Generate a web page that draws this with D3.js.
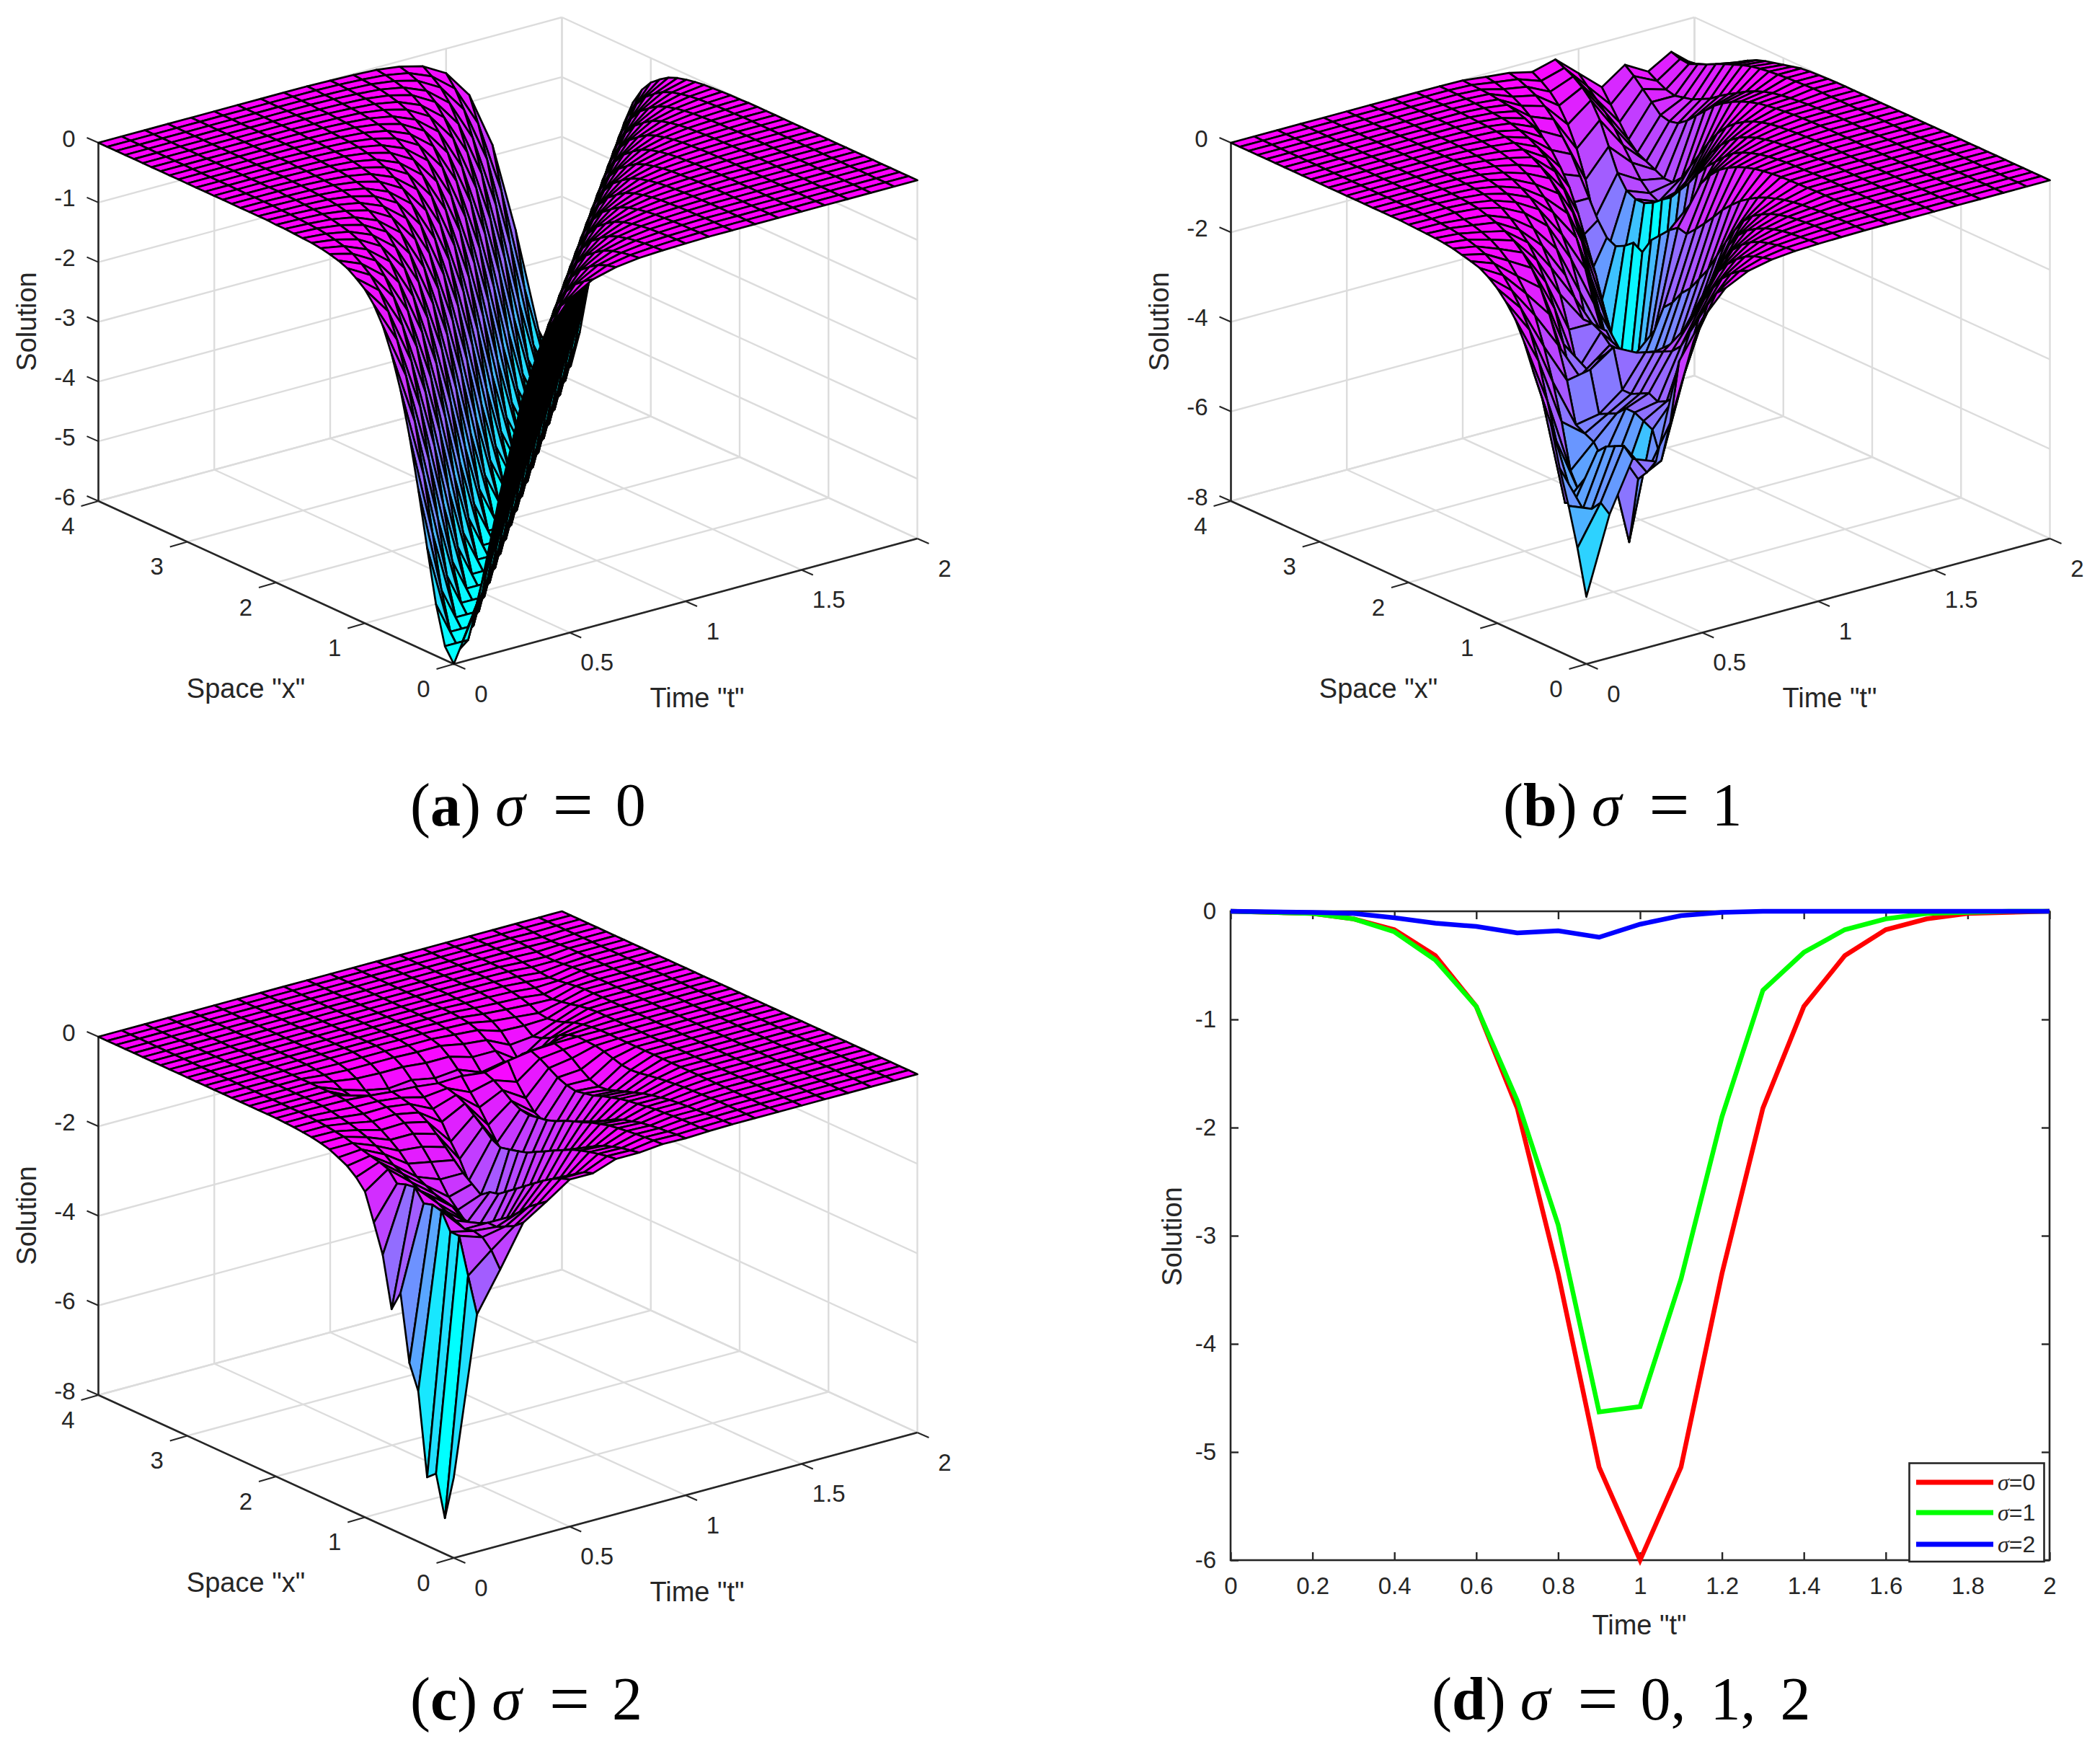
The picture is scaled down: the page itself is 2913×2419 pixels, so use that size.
<!DOCTYPE html>
<html>
<head>
<meta charset="utf-8">
<script src="https://cdnjs.cloudflare.com/ajax/libs/d3/7.8.5/d3.min.js"></script>
<style>
  html, body { margin: 0; background: #fff; }
  text { font-family: "Liberation Sans", Arial, sans-serif; fill: #262626; }
</style>
</head>
<body>
<div id="chart"></div>
<script>
// grid of the surfaces: rows are time, columns are space (trailing zeros of a row are left out)
const timeGrid = [0,.1,.2,.3,.4,.5,.6,.7,.8,.9,1,1.1,1.2,1.3,1.4,1.5,1.6,1.7,1.8,1.9,2];
const spaceGrid = [0,.1,.2,.3,.4,.5,.6,.7,.8,.9,1,1.1,1.2,1.3,1.4,1.5,1.6,1.7,1.8,1.9,2,2.1,2.2,2.3,2.4,2.5,2.6,2.7,2.8,2.9,3,3.1,3.2,3.3,3.4,3.5,3.6,3.7,3.8,3.9,4];

const timeTicks = [0,.5,1,1.5,2];
const spaceTicks = [0,1,2,3,4];
const zTicks1 = [0,-1,-2,-3,-4,-5,-6];
const zTicks2 = [0,-2,-4,-6,-8];

// sigma = 0
const surfaceA = [
[-6,-5.77,-5.14,-4.26,-3.35,-2.52,-1.82,-1.29,-.88,-.6,-.41,-.29,-.19,-.13,-.09,-.06,-.04,-.03,-.02,-.01,-.01],
[-5.14,-5.77,-6,-5.77,-5.14,-4.26,-3.35,-2.52,-1.82,-1.29,-.88,-.6,-.41,-.29,-.19,-.13,-.09,-.06,-.04,-.03,-.02,-.01,-.01],
[-3.35,-4.26,-5.14,-5.77,-6,-5.77,-5.14,-4.26,-3.35,-2.52,-1.82,-1.29,-.88,-.6,-.41,-.29,-.19,-.13,-.09,-.06,-.04,-.03,-.02,-.01,-.01],
[-1.82,-2.52,-3.35,-4.26,-5.14,-5.77,-6,-5.77,-5.14,-4.26,-3.35,-2.52,-1.82,-1.29,-.88,-.6,-.41,-.29,-.19,-.13,-.09,-.06,-.04,-.03,-.02,-.01,-.01],
[-.88,-1.29,-1.82,-2.52,-3.35,-4.26,-5.14,-5.77,-6,-5.77,-5.14,-4.26,-3.35,-2.52,-1.82,-1.29,-.88,-.6,-.41,-.29,-.19,-.13,-.09,-.06,-.04,-.03,-.02,-.01,-.01],
[-.41,-.6,-.88,-1.29,-1.82,-2.52,-3.35,-4.26,-5.14,-5.77,-6,-5.77,-5.14,-4.26,-3.35,-2.52,-1.82,-1.29,-.88,-.6,-.41,-.29,-.19,-.13,-.09,-.06,-.04,-.03,-.02,-.01,-.01],
[-.19,-.29,-.41,-.6,-.88,-1.29,-1.82,-2.52,-3.35,-4.26,-5.14,-5.77,-6,-5.77,-5.14,-4.26,-3.35,-2.52,-1.82,-1.29,-.88,-.6,-.41,-.29,-.19,-.13,-.09,-.06,-.04,-.03,-.02,-.01,-.01],
[-.09,-.13,-.19,-.29,-.41,-.6,-.88,-1.29,-1.82,-2.52,-3.35,-4.26,-5.14,-5.77,-6,-5.77,-5.14,-4.26,-3.35,-2.52,-1.82,-1.29,-.88,-.6,-.41,-.29,-.19,-.13,-.09,-.06,-.04,-.03,-.02,-.01,-.01],
[-.04,-.06,-.09,-.13,-.19,-.29,-.41,-.6,-.88,-1.29,-1.82,-2.52,-3.35,-4.26,-5.14,-5.77,-6,-5.77,-5.14,-4.26,-3.35,-2.52,-1.82,-1.29,-.88,-.6,-.41,-.29,-.19,-.13,-.09,-.06,-.04,-.03,-.02,-.01,-.01],
[-.02,-.03,-.04,-.06,-.09,-.13,-.19,-.29,-.41,-.6,-.88,-1.29,-1.82,-2.52,-3.35,-4.26,-5.14,-5.77,-6,-5.77,-5.14,-4.26,-3.35,-2.52,-1.82,-1.29,-.88,-.6,-.41,-.29,-.19,-.13,-.09,-.06,-.04,-.03,-.02,-.01,-.01],
[-.01,-.01,-.02,-.03,-.04,-.06,-.09,-.13,-.19,-.29,-.41,-.6,-.88,-1.29,-1.82,-2.52,-3.35,-4.26,-5.14,-5.77,-6,-5.77,-5.14,-4.26,-3.35,-2.52,-1.82,-1.29,-.88,-.6,-.41,-.29,-.19,-.13,-.09,-.06,-.04,-.03,-.02,-.01,-.01],
[0,0,-.01,-.01,-.02,-.03,-.04,-.06,-.09,-.13,-.19,-.29,-.41,-.6,-.88,-1.29,-1.82,-2.52,-3.35,-4.26,-5.14,-5.77,-6,-5.77,-5.14,-4.26,-3.35,-2.52,-1.82,-1.29,-.88,-.6,-.41,-.29,-.19,-.13,-.09,-.06,-.04,-.03,-.02],
[0,0,0,0,-.01,-.01,-.02,-.03,-.04,-.06,-.09,-.13,-.19,-.29,-.41,-.6,-.88,-1.29,-1.82,-2.52,-3.35,-4.26,-5.14,-5.77,-6,-5.77,-5.14,-4.26,-3.35,-2.52,-1.82,-1.29,-.88,-.6,-.41,-.29,-.19,-.13,-.09,-.06,-.04],
[0,0,0,0,0,0,-.01,-.01,-.02,-.03,-.04,-.06,-.09,-.13,-.19,-.29,-.41,-.6,-.88,-1.29,-1.82,-2.52,-3.35,-4.26,-5.14,-5.77,-6,-5.77,-5.14,-4.26,-3.35,-2.52,-1.82,-1.29,-.88,-.6,-.41,-.29,-.19,-.13,-.09],
[0,0,0,0,0,0,0,0,-.01,-.01,-.02,-.03,-.04,-.06,-.09,-.13,-.19,-.29,-.41,-.6,-.88,-1.29,-1.82,-2.52,-3.35,-4.26,-5.14,-5.77,-6,-5.77,-5.14,-4.26,-3.35,-2.52,-1.82,-1.29,-.88,-.6,-.41,-.29,-.19],
[0,0,0,0,0,0,0,0,0,0,-.01,-.01,-.02,-.03,-.04,-.06,-.09,-.13,-.19,-.29,-.41,-.6,-.88,-1.29,-1.82,-2.52,-3.35,-4.26,-5.14,-5.77,-6,-5.77,-5.14,-4.26,-3.35,-2.52,-1.82,-1.29,-.88,-.6,-.41],
[0,0,0,0,0,0,0,0,0,0,0,0,-.01,-.01,-.02,-.03,-.04,-.06,-.09,-.13,-.19,-.29,-.41,-.6,-.88,-1.29,-1.82,-2.52,-3.35,-4.26,-5.14,-5.77,-6,-5.77,-5.14,-4.26,-3.35,-2.52,-1.82,-1.29,-.88],
[0,0,0,0,0,0,0,0,0,0,0,0,0,0,-.01,-.01,-.02,-.03,-.04,-.06,-.09,-.13,-.19,-.29,-.41,-.6,-.88,-1.29,-1.82,-2.52,-3.35,-4.26,-5.14,-5.77,-6,-5.77,-5.14,-4.26,-3.35,-2.52,-1.82],
[0,0,0,0,0,0,0,0,0,0,0,0,0,0,0,0,-.01,-.01,-.02,-.03,-.04,-.06,-.09,-.13,-.19,-.29,-.41,-.6,-.88,-1.29,-1.82,-2.52,-3.35,-4.26,-5.14,-5.77,-6,-5.77,-5.14,-4.26,-3.35],
[0,0,0,0,0,0,0,0,0,0,0,0,0,0,0,0,0,0,-.01,-.01,-.02,-.03,-.04,-.06,-.09,-.13,-.19,-.29,-.41,-.6,-.88,-1.29,-1.82,-2.52,-3.35,-4.26,-5.14,-5.77,-6,-5.77,-5.14],
[0,0,0,0,0,0,0,0,0,0,0,0,0,0,0,0,0,0,0,0,-.01,-.01,-.02,-.03,-.04,-.06,-.09,-.13,-.19,-.29,-.41,-.6,-.88,-1.29,-1.82,-2.52,-3.35,-4.26,-5.14,-5.77,-6]
];

// sigma = 1
const surfaceB = [
[-6.5,-5.5,-4.65,-3.9,-3,-2.5,-2,-1.45,-1.03,-.75,-.53,-.37,-.25,-.19,-.14,-.09,-.06,-.04,-.03,-.02,-.01],
[-4.8,-4.63,-4.86,-4.95,-4.9,-5,-3.7,-2.9,-2.1,-1.5,-1.1,-.8,-.55,-.38,-.26,-.18,-.12,-.08,-.05,-.03,-.02,-.01],
[-3.7,-3.5,-3.6,-3.7,-3.9,-4.5,-5,-4.6,-3.6,-2.8,-2.1,-1.5,-1.1,-.8,-.55,-.38,-.26,-.18,-.12,-.08,-.02,-.01],
[-3.9,-4.23,-4.47,-5.97,-4.83,-4.6,-4.4,-4.1,-4,-3.9,-3,-2.3,-1.7,-1.2,-.85,-.6,-.42,-.3,-.2,-.13,-.07,-.04,-.02,-.01],
[-1.8,-3.27,-4.2,-3.6,-3.5,-3.4,-3.4,-3.6,-3.7,-3.8,-2.9,-3.2,-3.4,-2.6,-1.9,-1.4,-1,-.7,-.5,-.33,-.19,-.12,-.07,-.04,-.02,-.01],
[-1,-1.6,-2.4,-3,-3.2,-3.3,-3.2,-3.3,-3.4,-3.4,-2.54,-2.8,-3,-3.3,-3.4,-2.6,-1.9,-1.4,-1,-.7,-.45,-.3,-.2,-.13,-.08,-.05,-.03,-.01],
[-.45,-.65,-1,-1.4,-1.8,-2.2,-2.4,-2.5,-2.6,-2.7,-2.8,-2.9,-3,-2.9,-2.7,-2.6,-2.6,-2.2,-1.8,-1.3,-.88,-.6,-.42,-.3,-.2,-.14,-.09,-.06,-.04,-.02,-.01],
[-.2,-.3,-.45,-.65,-.95,-1.3,-1.7,-2.1,-2.5,-2.8,-3,-3.1,-3.2,-3.3,-3.3,-3.3,-3,-3.1,-3.2,-2.4,-1.75,-1.3,-.9,-.65,-.45,-.3,-.2,-.14,-.09,-.06,-.04,-.02,-.01],
[-.09,-.14,-.2,-.3,-.45,-.65,-.9,-1.3,-1.7,-2.3,-3,-3.6,-4,-4.2,-4.3,-4.4,-4.4,-4.3,-4,-3.5,-2.9,-2.2,-1.6,-1.15,-.8,-.55,-.38,-.26,-.18,-.12,-.08,-.05,-.03,-.02,-.01],
[-.04,-.06,-.09,-.14,-.2,-.3,-.45,-.65,-.95,-1.4,-1.9,-2.5,-3.1,-3.7,-4.2,-4.5,-4.6,-4.6,-4.6,-4.1,-4.63,-4.1,-3.4,-2.7,-2,-1.45,-1.03,-.72,-.5,-.35,-.24,-.16,-.1,-.07,-.05,-.03,-.02,-.01],
[-.02,-.03,-.05,-.07,-.1,-.15,-.22,-.32,-.45,-.65,-.95,-1.4,-1.9,-2.5,-3,-3.4,-3.8,-4.1,-4.3,-4.5,-4.58,-4.5,-4.5,-4.3,-3.7,-3,-2.4,-1.8,-1.3,-.95,-.66,-.46,-.32,-.22,-.15,-.1,-.07,-.04,-.03,-.02,-.01],
[-.01,-.01,-.02,-.03,-.05,-.07,-.1,-.15,-.22,-.32,-.45,-.65,-.95,-1.3,-1.7,-2.1,-2.4,-2.7,-2.9,-3.2,-3.4,-4,-4.8,-5.8,-6.8,-7.6,-7.2,-6,-4.8,-3.8,-2.9,-2.1,-1.5,-1.05,-.72,-.5,-.35,-.24,-.16,-.1,-.07],
[0,0,0,-.01,-.02,-.03,-.05,-.07,-.1,-.14,-.2,-.27,-.36,-.48,-.62,-.8,-1,-1.25,-1.48,-1.7,-1.9,-1.85,-2,-2.2,-2.4,-2.76,-2.64,-2.8,-2.9,-2.8,-2.5,-2.1,-1.7,-1.3,-1,-.7,-.5,-.35,-.25,-.17,-.12],
[0,0,0,0,0,0,0,0,0,-.01,-.02,-.03,-.04,-.06,-.09,-.13,-.19,-.27,-.38,-.52,-.73,-1,-1.5,-2.2,-3.2,-4.4,-5.8,-7,-7.8,-7.4,-6,-4.8,-3.8,-2.9,-2.1,-1.5,-1.05,-.72,-.5,-.35,-.24],
[0,0,0,0,0,0,0,0,0,0,0,-.01,-.02,-.03,-.04,-.06,-.09,-.13,-.19,-.27,-.38,-.55,-.75,-.95,-1.2,-1.5,-1.75,-2,-2.14,-2.3,-2.4,-2.4,-2.3,-2,-1.5,-1,-.65,-.45,-.3,-.2,-.1],
[0,0,0,0,0,0,0,0,0,0,0,0,0,-.01,-.02,-.03,-.04,-.06,-.08,-.12,-.17,-.25,-.35,-.5,-.7,-.95,-1.25,-1.6,-2,-2.4,-2.6,-2.6,-2.5,-2.3,-2,-1.7,-1.4,-1.15,-.95,-.75,-.55],
[0,0,0,0,0,0,0,0,0,0,0,0,0,0,0,0,-.01,-.02,-.03,-.05,-.07,-.1,-.15,-.22,-.32,-.45,-.62,-.85,-1.15,-1.5,-1.85,-2.2,-2.4,-2.4,-2.3,-2.2,-2.1,-1.9,-1.6,-1.3,-1],
[0,0,0,0,0,0,0,0,0,0,0,0,0,0,0,0,0,0,0,-.01,-.02,-.03,-.05,-.07,-.1,-.14,-.2,-.28,-.38,-.5,-.65,-.85,-1.05,-1.25,-1.4,-1.45,-1.4,-1.2,-1,-.8,-.64],
[0,0,0,0,0,0,0,0,0,0,0,0,0,0,0,0,0,0,0,0,-.01,-.02,-.03,-.05,-.07,-.1,-.14,-.2,-.28,-.38,-.5,-.62,-.75,-.9,-1,-1.1,-1.15,-1.2,-1.15,-1.05,-.93],
[0,0,0,0,0,0,0,0,0,0,0,0,0,0,0,0,0,0,0,0,0,0,0,0,0,-.01,-.02,-.03,-.05,-.07,-.1,-.14,-.2,-.28,-.36,-.45,-.55,-.63,-.72,-.7,-.63],
[0,0,0,0,0,0,0,0,0,0,0,0,0,0,0,0,0,0,0,0,0,0,0,0,0,-.01,-.02,-.03,-.05,-.1,-.15,-.2,-.25,-.32,-.42,-.55,-.7,-.8,-.9,-1,-1.06]
];

// sigma = 2
const surfaceC = [
[-6.2,-7.2,-6.3,-6.47,-4.64,-4.1,-2.63,-3.08,-1.96,-1.33,-.73,-.5,-.34,-.24,-.15,-.1,-.06,-.04,-.02,-.01],
[-2.7,-1.93,-1.13,-1.13,-.76,-.71,-.77,-.5,-.53,-.6,-.37,-.3,-.25,-.2,-.15,-.1,-.07,-.04,-.02,-.01],
[-1.84,-1.5,-1.3,-1.25,-1.3,-1.2,-1.1,-1,-.9,-.9,-.8,-.7,-.6,-.45,-.35,-.25,-.18,-.12,-.08,-.04,-.01],
[-.93,-1.1,-1.2,-1.3,-1.3,-1.4,-1.5,-1.45,-1.3,-1.3,-1.2,-1.1,-1,-.8,-.6,-.45,-.32,-.22,-.14,-.08,-.02],
[-.6,-.75,-.9,-1.1,-1.3,-1.6,-1.9,-2.1,-2,-1.9,-1.7,-1.5,-1.2,-.9,-.65,-.45,-.3,-.2,-.13,-.09,-.06,-.15,-.25,-.2,-.1,-.05,-.02],
[-.25,-.32,-.42,-.55,-.7,-.85,-1,-1.15,-1.3,-1.35,-1.5,-1.35,-1.2,-1,-.8,-.6,-.42,-.3,-.2,-.15,-.11,-.3,-.45,-.35,-.18,-.08,-.03],
[-.25,-.32,-.45,-.6,-.8,-1,-1.2,-1.4,-1.65,-1.9,-2.1,-2.3,-2.5,-2.1,-1.7,-1.3,-1,-.65,-.45,-.28,-.14,-.5,-.7,-.45,-.2,-.08,-.03],
[-.07,-.1,-.14,-.19,-.25,-.32,-.42,-.52,-.63,-.73,-.84,-.9,-.95,-1,-.9,-.72,-.55,-.38,-.28,-.22,-.2,-.4,-.55,-.4,-.2,-.08,-.03],
[-.07,-.11,-.15,-.21,-.28,-.38,-.5,-.63,-.8,-1,-1.2,-1.4,-1.55,-1.7,-1.75,-1.6,-1.3,-1,-.7,-.45,-.18,-.5,-.75,-.5,-.25,-.1,-.04,-.01],
[-.02,-.03,-.05,-.07,-.09,-.12,-.15,-.21,-.27,-.35,-.42,-.5,-.6,-.67,-.7,-.74,-.7,-.6,-.45,-.32,-.24,-.45,-.6,-.45,-.25,-.1,-.04,-.01],
[-.03,-.04,-.06,-.08,-.11,-.14,-.2,-.25,-.34,-.45,-.56,-.7,-.87,-1,-1.1,-1.2,-1.1,-1,-.77,-.5,-.12,-.45,-.75,-.65,-.4,-.2,-.08,-.03,-.01],
[-.01,-.02,-.02,-.03,-.04,-.06,-.07,-.1,-.13,-.16,-.2,-.26,-.32,-.4,-.44,-.48,-.44,-.36,-.24,-.12,-.04,-.2,-.45,-.55,-.4,-.25,-.12,-.05,-.02],
[0,-.01,-.01,-.03,-.04,-.05,-.07,-.09,-.13,-.17,-.22,-.29,-.36,-.43,-.5,-.52,-.45,-.32,-.16,-.06,-.01,-.15,-.45,-.7,-.75,-.5,-.28,-.15,-.08,-.04,-.02,-.01],
[0,0,0,0,0,-.01,-.02,-.03,-.04,-.06,-.08,-.11,-.14,-.18,-.2,-.18,-.12,-.06,-.02,-.01,0,-.05,-.15,-.3,-.4,-.45,-.3,-.2,-.12,-.07,-.03,-.01],
[0,0,0,0,0,0,0,0,0,0,0,0,0,0,0,0,0,0,0,0,0,-.02,-.05,-.1,-.18,-.25,-.28,-.25,-.15,-.09,-.05,-.02,-.01],
[0,0,0,0,0,0,0,0,0,0,0,0,0,0,0,0,0,0,0,0,0,0,0,0,-.02,-.05,-.1,-.14,-.17,-.15,-.1,-.06,-.03,-.01],
[0,0,0,0,0,0,0,0,0,0,0,0,0,0,0,0,0,0,0,0,0,0,0,0,0,0,0,0,-.02,-.05,-.08,-.1,-.08,-.05,-.03,-.01],
[0,0,0,0,0,0,0,0,0,0,0,0,0,0,0,0,0,0,0,0,0,0,0,0,0,0,0,0,0,0,0,-.01,-.03,-.05,-.05,-.03,-.01],
[0,0,0,0,0,0,0,0,0,0,0,0,0,0,0,0,0,0,0,0,0,0,0,0,0,0,0,0,0,0,0,0,0,0,0,-.01,-.02,-.02,-.01],
[],
[]
];

// panel (d), slice through x = 2
const lineSigma0 = [0,-.01,-.02,-.07,-.17,-.41,-.88,-1.82,-3.35,-5.14,-6,-5.14,-3.35,-1.82,-.88,-.41,-.17,-.07,-.02,-.01,0];
const lineSigma1 = [0,-.01,-.02,-.07,-.19,-.45,-.88,-1.75,-2.9,-4.63,-4.58,-3.4,-1.9,-.73,-.38,-.17,-.07,-.02,-.01,0,0];
const lineSigma2 = [0,-.005,-.01,-.02,-.06,-.11,-.14,-.2,-.18,-.24,-.12,-.04,-.01,0,0,0,0,0,0,0,0];
const lineTicksX = [0,.2,.4,.6,.8,1,1.2,1.4,1.6,1.8,2];
const lineTicksY = [0,-1,-2,-3,-4,-5,-6];
const legendLabels = ["=0","=1","=2"];
const lineColors = ["#ff0000","#00ff00","#0000ff"];

const width = 2913, height = 2419;

const svg = d3.select("#chart")
  .append("svg")
    .attr("width", width)
    .attr("height", height)
    .style("display", "block")
    .style("background", "#fff");

const gridGray = "#dcdcdc", axisDark = "#262626";

// matlab's "cool" map, 64 steps
function coolColor(z, zLow) {
  const level = d3.scaleQuantize().domain([zLow, 0]).range(d3.range(64));
  const r = level(z) / 63;
  return d3.rgb(255 * r, 255 * (1 - r), 255).formatHex();
}

function drawSurfacePanel(dx, dy, Z, zTicks, zLow, zAxisLow) {
  const g = svg.append("g").attr("transform", `translate(${dx},${dy})`);

  // the box is a plain orthographic projection: front corner, then one scale per axis
  const front = [629.5, 921];
  const tX = d3.scaleLinear().domain([0, 2]).range([0, 643]);
  const tY = d3.scaleLinear().domain([0, 2]).range([0, -174]);
  const xX = d3.scaleLinear().domain([0, 4]).range([0, -493]);
  const xY = d3.scaleLinear().domain([0, 4]).range([0, -226]);
  const zY = d3.scaleLinear().domain([zAxisLow, 0]).range([0, -497]);
  const project = (t, x, z) => [front[0] + tX(t) + xX(x), front[1] + tY(t) + xY(x) + zY(z)];

  const seg = (a, b, color, w) => g.append("line")
    .attr("x1", a[0]).attr("y1", a[1]).attr("x2", b[0]).attr("y2", b[1])
    .attr("stroke", color).attr("stroke-width", w);

  // walls and floor
  zTicks.forEach(z => {
    seg(project(0, 4, z), project(2, 4, z), gridGray, 2.4);
    seg(project(2, 4, z), project(2, 0, z), gridGray, 2.4);
  });
  timeTicks.forEach(t => {
    seg(project(t, 4, zAxisLow), project(t, 4, 0), gridGray, 2.4);
    seg(project(t, 0, zAxisLow), project(t, 4, zAxisLow), gridGray, 2.4);
  });
  spaceTicks.forEach(x => {
    seg(project(2, x, zAxisLow), project(2, x, 0), gridGray, 2.4);
    seg(project(0, x, zAxisLow), project(2, x, zAxisLow), gridGray, 2.4);
  });

  // axis lines and ticks
  seg(project(0, 4, zAxisLow), project(0, 4, 0), axisDark, 2.6);
  seg(project(0, 4, zAxisLow), project(0, 0, zAxisLow), axisDark, 2.6);
  seg(project(0, 0, zAxisLow), project(2, 0, zAxisLow), axisDark, 2.6);
  zTicks.forEach(z => {
    const p = project(0, 4, z);
    seg(p, [p[0] - 16, p[1] - 7], axisDark, 2);
    g.append("text").attr("x", p[0] - 32).attr("y", p[1] - 6)
      .attr("text-anchor", "end").attr("dominant-baseline", "central")
      .attr("font-size", 33).text(z);
  });
  spaceTicks.forEach(x => {
    const p = project(0, x, zAxisLow);
    seg(p, [p[0] - 24, p[1] + 7], axisDark, 2);
    g.append("text").attr("x", p[0] - 42).attr("y", p[1] + 34)
      .attr("text-anchor", "middle").attr("dominant-baseline", "central")
      .attr("font-size", 33).text(x);
  });
  timeTicks.forEach(t => {
    const p = project(t, 0, zAxisLow);
    seg(p, [p[0] + 16, p[1] + 7], axisDark, 2);
    g.append("text").attr("x", p[0] + 38).attr("y", p[1] + 41)
      .attr("text-anchor", "middle").attr("dominant-baseline", "central")
      .attr("font-size", 33).text(t);
  });

  // faces, back to front, coloured by their lowest-index corner
  const faces = [];
  for (let i = timeGrid.length - 2; i >= 0; i--) {
    for (let j = spaceGrid.length - 2; j >= 0; j--) {
      faces.push({i, j});
    }
  }
  const zAt = (i, j) => Z[i][j] || 0;
  const pt = (i, j) => project(timeGrid[i], spaceGrid[j], zAt(i, j));
  const line = d3.line();
  g.selectAll("path.face")
    .data(faces)
    .join("path")
      .attr("class", "face")
      .attr("d", d => line([pt(d.i, d.j), pt(d.i + 1, d.j), pt(d.i + 1, d.j + 1), pt(d.i, d.j + 1)]) + "Z")
      .attr("fill", d => coolColor(zAt(d.i, d.j), zLow))
      .attr("stroke", "#000")
      .attr("stroke-width", 2.7)
      .attr("stroke-linejoin", "round");

  g.append("text").attr("x", 341).attr("y", 955)
    .attr("text-anchor", "middle").attr("dominant-baseline", "central")
    .attr("font-size", 38).text('Space "x"');
  g.append("text").attr("x", 967).attr("y", 968)
    .attr("text-anchor", "middle").attr("dominant-baseline", "central")
    .attr("font-size", 38).text('Time "t"');
  g.append("text").attr("transform", "translate(37,446) rotate(-90)")
    .attr("text-anchor", "middle").attr("dominant-baseline", "central")
    .attr("font-size", 38).text("Solution");
}

drawSurfacePanel(0, 0, surfaceA, zTicks1, -6, -6);
drawSurfacePanel(1571, 0, surfaceB, zTicks2, -7.9, -8);
drawSurfacePanel(0, 1240, surfaceC, zTicks2, -7.2, -8);

// panel (d)
const xScale = d3.scaleLinear().domain([0, 2]).range([1707, 2843]);
const yScale = d3.scaleLinear().domain([-6, 0]).range([2164, 1264]);

svg.append("rect")
  .attr("x", 1707).attr("y", 1264).attr("width", 1136).attr("height", 900)
  .attr("fill", "none").attr("stroke", axisDark).attr("stroke-width", 2.6);

const gx = svg.append("g").attr("transform", "translate(0,2164)")
  .call(d3.axisBottom(xScale).tickValues(lineTicksX).tickSize(-11).tickPadding(24).tickFormat(d => String(d)));
const gxTop = svg.append("g").attr("transform", "translate(0,1264)")
  .call(d3.axisTop(xScale).tickValues(lineTicksX).tickSize(-11).tickFormat(""));
const gy = svg.append("g").attr("transform", "translate(1707,0)")
  .call(d3.axisLeft(yScale).tickValues(lineTicksY).tickSize(-11).tickPadding(20).tickFormat(d => String(d)));
const gyRight = svg.append("g").attr("transform", "translate(2843,0)")
  .call(d3.axisRight(yScale).tickValues(lineTicksY).tickSize(-11).tickFormat(""));
[gx, gxTop, gy, gyRight].forEach(a => {
  a.select(".domain").remove();
  a.selectAll("line").attr("stroke", axisDark).attr("stroke-width", 2.4);
  a.selectAll("text").attr("font-size", 33).attr("font-family", '"Liberation Sans", Arial, sans-serif').attr("fill", axisDark);
});

const valueLine = d3.line().x((d, i) => xScale(timeGrid[i])).y(d => yScale(d));
[lineSigma0, lineSigma1, lineSigma2].forEach((series, k) => {
  svg.append("path")
    .attr("d", valueLine(series))
    .attr("fill", "none")
    .attr("stroke", lineColors[k])
    .attr("stroke-width", 6.5);
});

svg.append("text").attr("transform", "translate(1626,1715) rotate(-90)")
  .attr("text-anchor", "middle").attr("dominant-baseline", "central")
  .attr("font-size", 38).text("Solution");
svg.append("text").attr("x", 2274).attr("y", 2254)
  .attr("text-anchor", "middle").attr("dominant-baseline", "central")
  .attr("font-size", 38).text('Time "t"');

// legend
svg.append("rect")
  .attr("x", 2648.5).attr("y", 2029.5).attr("width", 187).attr("height", 136.5)
  .attr("fill", "#fff").attr("stroke", axisDark).attr("stroke-width", 2.6);
const legendY = [2056, 2098, 2142];
legendLabels.forEach((label, k) => {
  svg.append("line")
    .attr("x1", 2658).attr("x2", 2765).attr("y1", legendY[k]).attr("y2", legendY[k])
    .attr("stroke", lineColors[k]).attr("stroke-width", 7);
  const t = svg.append("text").attr("x", 2771).attr("y", legendY[k] + 11).attr("font-size", 32);
  t.append("tspan").attr("font-family", '"Liberation Serif", serif').attr("font-style", "italic").text("σ");
  t.append("tspan").text(label);
});

// captions under the panels
const captions = [
  {x: 569, y: 1145, tag: "a", digits: ["0"]},
  {x: 2085, y: 1145, tag: "b", digits: ["1"]},
  {x: 569, y: 2385, tag: "c", digits: ["2"]},
  {x: 1986, y: 2385, tag: "d", digits: ["0,", "1,", "2"]}
];
captions.forEach(c => {
  const t = svg.append("text").attr("x", c.x).attr("y", c.y).attr("font-size", 84)
    .style("font-family", '"Liberation Serif", serif').style("fill", "#000");
  t.append("tspan").text("(");
  t.append("tspan").attr("font-weight", "bold").text(c.tag);
  t.append("tspan").text(")");
  t.append("tspan").attr("dx", 20).attr("font-style", "italic").text("σ");
  // the "=" of the math font is wider than the text one
  t.append("tspan").attr("dx", 38).attr("dy", 5).attr("font-size", 100).text("=");
  c.digits.forEach((d, k) => {
    const s = t.append("tspan").attr("dx", k ? 34 : 31).text(d);
    if (!k) s.attr("dy", -5);
  });
});
</script>
</body>
</html>
